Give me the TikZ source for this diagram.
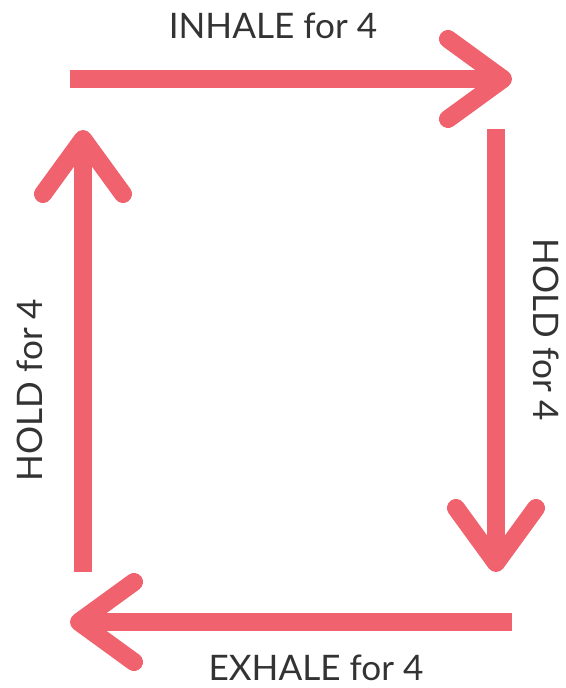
\documentclass[tikz,border=0pt]{standalone}
\usepackage{fontspec}
\setmainfont{Lato}
\usetikzlibrary{arrows.meta}

\definecolor{breath}{RGB}{240,99,110}

\begin{document}
\begin{tikzpicture}[
    x=0.03cm, y=-0.03cm,
    side/.style={
        draw=breath,
        line width=0.54cm,
        -{Straight Barb[length=1.65cm, width=2.4cm, round]}
    },
    label/.style={font=\fontsize{30}{36}\selectfont, text=black!80}
]
\useasboundingbox (0,0) rectangle (566,688);

% Corners of the square
\coordinate (tlA) at (70,79);
\coordinate (trA) at (512,79);
\coordinate (trB) at (496,129);
\coordinate (brB) at (496,572);
\coordinate (brC) at (512,622);
\coordinate (blC) at (70,622);
\coordinate (blD) at (83,572);
\coordinate (tlD) at (83,130);

% Arrows
\draw[side] (tlA) -- (trA);
\draw[side] (trB) -- (brB);
\draw[side] (brC) -- (blC);
\draw[side] (blD) -- (tlD);

% Labels
\node[label] (inhale) at (273,26) {INHALE for 4};
\node[label, rotate=-90] (holdR) at (546,330) {HOLD for 4};
\node[label] (exhale) at (316,668) {EXHALE for 4};
\node[label, rotate=90] (holdL) at (30,390) {HOLD for 4};

\end{tikzpicture}
\end{document}
